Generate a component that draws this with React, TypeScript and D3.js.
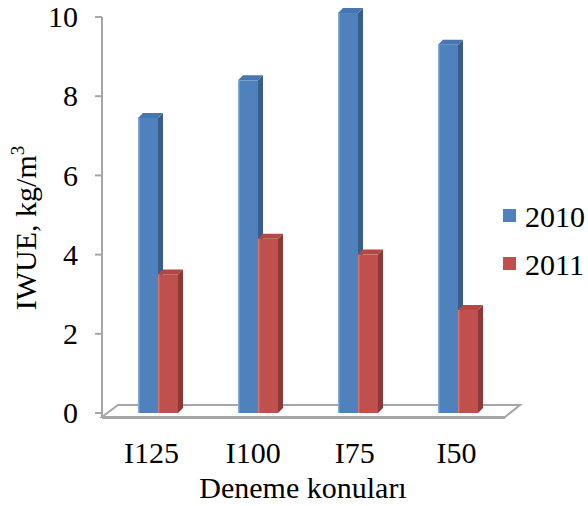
import React from "react";
import * as d3 from "d3";

const categories = ["I125", "I100", "I75", "I50"];
const seriesNames = ["2010", "2011"];
const values2010 = [7.45, 8.4, 10.1, 9.3];
const values2011 = [3.5, 4.4, 4.0, 2.6];
const yTicks = [0, 2, 4, 6, 8, 10];

const W = 588;
const H = 506;
const FONT = "Liberation Serif";

const palette = [
  { front: "#4F81BD", side: "#3A5E8C", top: "#4776B0", edge: "#86A8D6" },
  { front: "#C0504D", side: "#8C3937", top: "#B34744", edge: "#CF7471" },
];

// oblique depth of the 3D boxes
const DX = 5;
const DY = -5;

export default function App() {
  const y = d3.scaleLinear().domain([0, 10]).range([413, 17]);
  const x0 = d3
    .scaleBand<string>()
    .domain(categories)
    .range([108, 508])
    .paddingInner(0.6)
    .paddingOuter(0.3);
  const x1 = d3
    .scaleBand<string>()
    .domain(seriesNames)
    .range([0, x0.bandwidth()]);
  const labelX = d3.scalePoint<string>().domain(categories).range([151.5, 456.5]);

  const series = [values2010, values2011];

  const floor = [
    [102, 417],
    [505, 417],
    [520, 405],
    [118, 405],
  ];

  return (
    <svg width={W} height={H} style={{ position: "absolute", left: 0, top: 0 }}>
      <rect width={W} height={H} fill="#ffffff" />

      {/* floor */}
      <polygon
        points={floor.map((p) => p.join(",")).join(" ")}
        fill="#ffffff"
        stroke="#a6a6a6"
        strokeWidth={2}
      />
      <line x1={102} x2={505} y1={418} y2={418} stroke="#a6a6a6" strokeWidth={2} />

      {/* value axis */}
      <line x1={102} x2={102} y1={y(10)} y2={418} stroke="#a6a6a6" strokeWidth={2} />
      {yTicks.map((t) => (
        <g key={t}>
          <line x1={95} x2={102} y1={y(t)} y2={y(t)} stroke="#a6a6a6" strokeWidth={2} />
          <text
            x={78}
            y={y(t)}
            dy="0.34em"
            textAnchor="end"
            fontFamily={FONT}
            fontSize={30}
            fill="#000"
          >
            {t}
          </text>
        </g>
      ))}

      {/* bars */}
      {categories.map((c, i) => (
        <g key={c}>
          {seriesNames.map((s, k) => {
            const v = series[k][i];
            const xl = (x0(c) ?? 0) + (x1(s) ?? 0);
            const w = x1.bandwidth();
            const yt = y(v);
            const yb = y(0);
            const col = palette[k];
            const side = [
              [xl + w, yt],
              [xl + w + DX, yt + DY],
              [xl + w + DX, yb + DY],
              [xl + w, yb],
            ];
            const top = [
              [xl, yt],
              [xl + DX, yt + DY],
              [xl + w + DX, yt + DY],
              [xl + w, yt],
            ];
            return (
              <g key={s}>
                <polygon points={side.map((p) => p.join(",")).join(" ")} fill={col.side} />
                <polygon points={top.map((p) => p.join(",")).join(" ")} fill={col.top} />
                <rect x={xl} y={yt} width={w} height={yb - yt} fill={col.front} />
                <rect x={xl} y={yt} width={1.5} height={yb - yt} fill={col.edge} />
              </g>
            );
          })}
        </g>
      ))}

      {/* category labels */}
      {categories.map((c) => (
        <text
          key={c}
          x={labelX(c)}
          y={463}
          textAnchor="middle"
          fontFamily={FONT}
          fontSize={30}
          fill="#000"
        >
          {c}
        </text>
      ))}

      <text x={303} y={498} textAnchor="middle" fontFamily={FONT} fontSize={30} fill="#000">
        Deneme konuları
      </text>

      <text
        transform="translate(36,228) rotate(-90)"
        textAnchor="middle"
        fontFamily={FONT}
        fontSize={30}
        fill="#000"
      >
        IWUE, kg/m
        <tspan fontSize={19} dy={-12}>
          3
        </tspan>
      </text>

      {/* legend */}
      {seriesNames.map((s, k) => (
        <g key={s}>
          <rect x={503} y={209 + k * 48} width={13} height={13} fill={palette[k].front} />
          <text x={525} y={227 + k * 48} fontFamily={FONT} fontSize={30} fill="#000">
            {s}
          </text>
        </g>
      ))}
    </svg>
  );
}
